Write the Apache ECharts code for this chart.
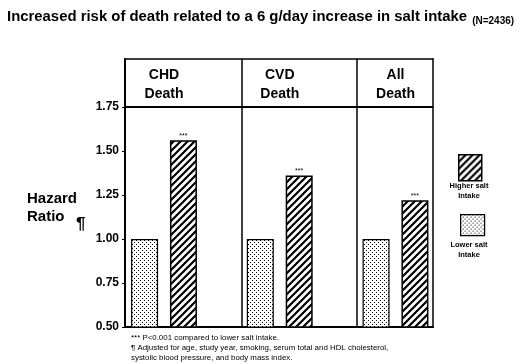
<!DOCTYPE html>
<html>
<head>
<meta charset="utf-8">
<script src="https://cdn.jsdelivr.net/npm/echarts@6/dist/echarts.min.js"></script>
<style>html,body{margin:0;padding:0;background:#fff}#c{width:523px;height:364px}</style>
</head>
<body>
<div id="c"></div>
<script>
const categories = ['CHD\nDeath', 'CVD\nDeath', 'All\nDeath'];
const lowerSalt = [1.00, 1.00, 1.00];
const higherSalt = [1.56, 1.36, 1.22];
const yTicks = [0.50, 0.75, 1.00, 1.25, 1.50, 1.75];
const seriesNames = ['Lower salt intake', 'Higher salt intake'];
const legendLabels = ['Higher salt\nIntake', 'Lower salt\nIntake'];
const sigMark = '***';
const titleText = 'Increased risk of death related to a 6 g/day increase in salt intake';
const nText = '(N=2436)';
const footnotes = [
  '*** P<0.001 compared to lower salt intake.',
  '\u00B6 Adjusted for age, study year, smoking, serum total and HDL cholesterol,',
  'systolic blood pressure, and body mass index.'
];

const FONT = '"Liberation Sans", Arial, sans-serif';

function hatchCanvas() {
  const s = 7, c = document.createElement('canvas');
  c.width = s; c.height = s;
  const g = c.getContext('2d');
  g.fillStyle = '#fff'; g.fillRect(0, 0, s, s);
  g.strokeStyle = '#000'; g.lineWidth = 2.2;
  g.beginPath();
  g.moveTo(-1, s + 1); g.lineTo(s + 1, -1);
  g.moveTo(-1, 1); g.lineTo(1, -1);
  g.moveTo(s - 1, s + 1); g.lineTo(s + 1, s - 1);
  g.stroke();
  return c;
}
function dotCanvas() {
  const s = 4, c = document.createElement('canvas');
  c.width = s; c.height = s;
  const g = c.getContext('2d');
  g.fillStyle = '#fff'; g.fillRect(0, 0, s, s);
  g.fillStyle = '#000';
  g.fillRect(0, 0, 1, 1); g.fillRect(2, 2, 1, 1);
  return c;
}
const hatchFill = { image: hatchCanvas(), repeat: 'repeat' };
const dotFill = { image: dotCanvas(), repeat: 'repeat' };

const xMin = -0.337, xMax = 2.324;
const yMin = 0.5, yMax = 2.022;

const chart = echarts.init(document.getElementById('c'), null, { renderer: 'canvas' });
chart.setOption({
  animation: false,
  backgroundColor: '#fff',
  textStyle: { fontFamily: FONT },
  title: [
    {
      text: '{a|' + titleText + '} {b|' + nText + '}',
      left: 2, top: 3,
      textStyle: { rich: {
        a: { fontFamily: FONT, fontWeight: 'bold', fontSize: 14.9, color: '#000' },
        b: { fontFamily: FONT, fontWeight: 'bold', fontSize: 10, color: '#000', verticalAlign: 'bottom' }
      } }
    },
    {
      text: 'Hazard\nRatio', left: 22, top: 185,
      textStyle: { fontFamily: FONT, fontWeight: 'bold', fontSize: 15, lineHeight: 18, color: '#000' }
    },
    {
      text: '\u00B6', left: 71, top: 211,
      textStyle: { fontFamily: FONT, fontWeight: 'bold', fontSize: 17, color: '#000' }
    },
    {
      text: footnotes.join('\n'), left: 126, top: 328,
      textStyle: { fontFamily: FONT, fontWeight: 'normal', fontSize: 7.9, lineHeight: 10, color: '#000' }
    },
    {
      text: legendLabels[0], left: 464, top: 176, textAlign: 'center',
      textStyle: { fontFamily: FONT, fontSize: 7.5, lineHeight: 10, color: '#000', align: 'center' }
    },
    {
      text: legendLabels[1], left: 464, top: 235, textAlign: 'center',
      textStyle: { fontFamily: FONT, fontSize: 7.5, lineHeight: 10, color: '#000', align: 'center' }
    }
  ],
  legend: [
    {
      data: [seriesNames[1]], left: 453, top: 149, itemWidth: 23, itemHeight: 26,
      icon: 'rect', formatter: () => '', selectedMode: false,
      itemStyle: { borderColor: '#000', borderWidth: 1.5 }
    },
    {
      data: [seriesNames[0]], left: 455, top: 209, itemWidth: 24, itemHeight: 21,
      icon: 'rect', formatter: () => '', selectedMode: false,
      itemStyle: { borderColor: '#000', borderWidth: 1.2 }
    }
  ],
  grid: { left: 125, right: 90, top: 59, bottom: 37, containLabel: false },
  xAxis: [
    {
      type: 'value', min: xMin, max: xMax, position: 'bottom',
      axisLine: { show: true, onZero: false, lineStyle: { color: '#000', width: 2 } },
      axisTick: { show: false }, axisLabel: { show: false }, splitLine: { show: false }
    },
    {
      type: 'value', min: xMin, max: xMax, position: 'top',
      axisLine: { show: true, onZero: false, lineStyle: { color: '#000', width: 1.5 } },
      axisTick: { show: false }, splitLine: { show: false },
      axisLabel: {
        show: true, inside: true, margin: 7,
        customValues: categories.map((c, i) => i),
        formatter: v => categories[Math.round(v)] || '',
        fontFamily: FONT, fontWeight: 'bold', fontSize: 14, lineHeight: 19, color: '#000',
        verticalAlign: 'top'
      }
    }
  ],
  yAxis: [
    {
      type: 'value', min: yMin, max: yMax, position: 'left',
      axisLine: { show: true, onZero: false, lineStyle: { color: '#000', width: 2 } },
      axisTick: { show: true, length: 3, customValues: yTicks, lineStyle: { color: '#000', width: 1 } },
      axisLabel: {
        show: true, margin: 6, customValues: yTicks,
        formatter: v => v.toFixed(2),
        fontFamily: FONT, fontWeight: 'bold', fontSize: 12, color: '#000'
      },
      splitLine: { show: false }
    },
    {
      type: 'value', min: yMin, max: yMax, position: 'right',
      axisLine: { show: true, onZero: false, lineStyle: { color: '#000', width: 1.5 } },
      axisTick: { show: false }, axisLabel: { show: false }, splitLine: { show: false }
    }
  ],
  series: [
    {
      name: seriesNames[0], type: 'bar', xAxisIndex: 0, yAxisIndex: 0,
      barWidth: 27, barGap: '44%',
      data: categories.map((c, i) => [i, lowerSalt[i]]),
      itemStyle: { color: dotFill, borderColor: '#000', borderWidth: 1.2 }
    },
    {
      name: seriesNames[1], type: 'bar', xAxisIndex: 0, yAxisIndex: 0,
      barWidth: 27, barGap: '44%',
      data: categories.map((c, i) => [i, higherSalt[i]]),
      itemStyle: { color: hatchFill, borderColor: '#000', borderWidth: 1.5 },
      label: { show: true, position: 'top', distance: 1, formatter: sigMark, fontSize: 7, color: '#000', fontFamily: FONT },
      markLine: {
        silent: true, symbol: 'none', label: { show: false },
        lineStyle: { color: '#000', type: 'solid', width: 1.5 },
        data: [
          { xAxis: 0.5 },
          { xAxis: 1.5 },
          { yAxis: yTicks[yTicks.length - 1], lineStyle: { color: '#000', type: 'solid', width: 2 } }
        ]
      }
    }
  ]
});
</script>
</body>
</html>
